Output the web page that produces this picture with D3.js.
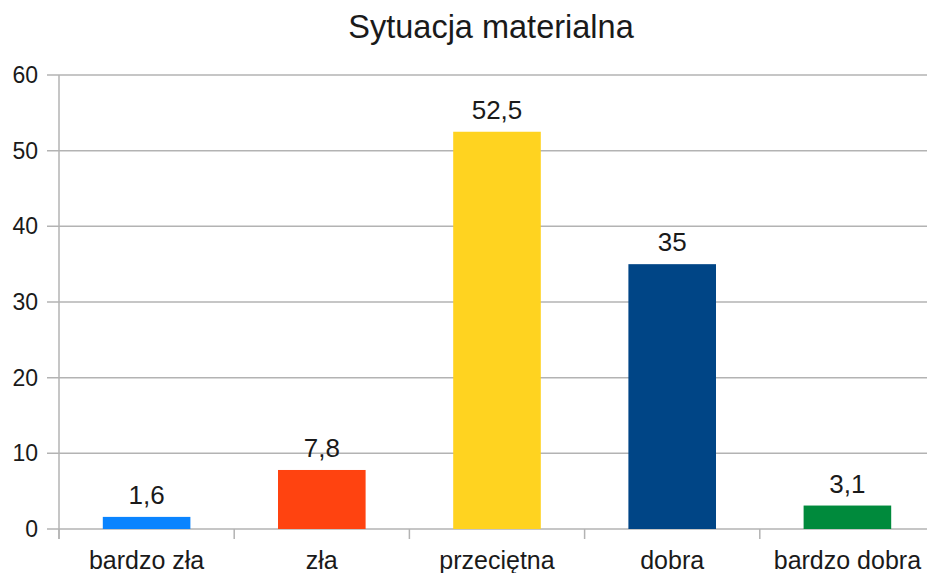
<!DOCTYPE html>
<meta charset="utf-8">
<style>
body { margin: 0; background: #fff; }
svg { display: block; font-family: "Liberation Sans", Arial, sans-serif; }
.grid line { stroke: #b3b3b3; stroke-width: 1.5px; }
.axis path, .axis line { stroke: #b3b3b3; stroke-width: 1.5px; }
text { fill: #1a1a1a; }
</style>
<body>
<svg width="927" height="573"></svg>
<script src="https://d3js.org/d3.v7.min.js"></script>
<script>

var categories = ["bardzo zła", "zła", "przeciętna", "dobra", "bardzo dobra"];
var values = [1.6, 7.8, 52.5, 35, 3.1];
var labels = ["1,6", "7,8", "52,5", "35", "3,1"];
var colors = ["#0a84ff", "#ff4310", "#ffd320", "#004586", "#008a3c"];
var yTicks = [0, 10, 20, 30, 40, 50, 60];

var svg = d3.select("svg");

var plotLeft = 59, plotRight = 935, plotTop = 75, plotBottom = 529;

var x = d3.scaleBand()
    .domain(categories)
    .range([plotLeft, plotRight])
    .paddingInner(0.5)
    .paddingOuter(0.25);

var y = d3.scaleLinear()
    .domain([0, 60])
    .range([plotBottom, plotTop]);

var step = x.step();

// gridlines
svg.append("g")
    .attr("class", "grid")
  .selectAll("line")
  .data(yTicks)
  .enter().append("line")
    .attr("x1", plotLeft - 12)
    .attr("x2", plotRight)
    .attr("y1", function(d) { return y(d); })
    .attr("y2", function(d) { return y(d); });

// y axis line
svg.append("line")
    .attr("x1", plotLeft).attr("x2", plotLeft)
    .attr("y1", y(60)).attr("y2", plotBottom + 10)
    .style("stroke", "#b3b3b3").style("stroke-width", "1.5px");

// category separator ticks
svg.append("g")
    .attr("class", "axis")
  .selectAll("line")
  .data(d3.range(categories.length + 1))
  .enter().append("line")
    .attr("x1", function(i) { return plotLeft + i * step; })
    .attr("x2", function(i) { return plotLeft + i * step; })
    .attr("y1", plotBottom)
    .attr("y2", plotBottom + 10);

// y tick labels
svg.append("g")
  .selectAll("text")
  .data(yTicks)
  .enter().append("text")
    .attr("x", 38)
    .attr("y", function(d) { return y(d); })
    .attr("dy", "0.35em")
    .attr("text-anchor", "end")
    .style("font-size", "23px")
    .text(function(d) { return d; });

// bars
svg.append("g")
  .selectAll("rect")
  .data(values)
  .enter().append("rect")
    .attr("x", function(d, i) { return x(categories[i]); })
    .attr("width", x.bandwidth())
    .attr("y", function(d) { return y(d); })
    .attr("height", function(d) { return plotBottom - y(d); })
    .attr("fill", function(d, i) { return colors[i]; });

// value labels
svg.append("g")
  .selectAll("text")
  .data(values)
  .enter().append("text")
    .attr("x", function(d, i) { return x(categories[i]) + x.bandwidth() / 2; })
    .attr("y", function(d) { return y(d) - 13; })
    .attr("text-anchor", "middle")
    .style("font-size", "26px")
    .text(function(d, i) { return labels[i]; });

// category labels
svg.append("g")
  .selectAll("text")
  .data(categories)
  .enter().append("text")
    .attr("x", function(d) { return x(d) + x.bandwidth() / 2; })
    .attr("y", 569)
    .attr("text-anchor", "middle")
    .style("font-size", "25px")
    .text(function(d) { return d; });

// title
svg.append("text")
    .attr("x", 491)
    .attr("y", 38)
    .attr("text-anchor", "middle")
    .style("font-size", "32.5px")
    .text("Sytuacja materialna");

</script>
</body>
